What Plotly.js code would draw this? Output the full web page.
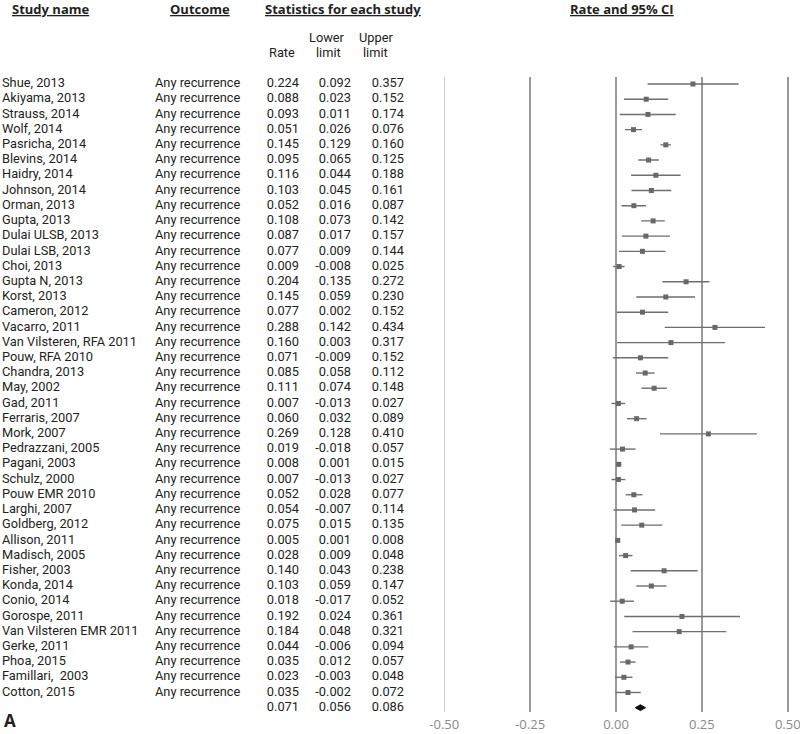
<!DOCTYPE html>
<html>
<head>
<meta charset="utf-8">
<script src="https://cdn.plot.ly/plotly-3.0.1.min.js"></script>
<style>html,body{margin:0;padding:0;background:#fff}#chart{width:800px;height:734px}</style>
</head>
<body>
<div id="chart"></div>
<script>
const studies = ["Shue, 2013","Akiyama, 2013","Strauss, 2014","Wolf, 2014","Pasricha, 2014","Blevins, 2014","Haidry, 2014","Johnson, 2014","Orman, 2013","Gupta, 2013","Dulai ULSB, 2013","Dulai LSB, 2013","Choi, 2013","Gupta N, 2013","Korst, 2013","Cameron, 2012","Vacarro, 2011","Van Vilsteren, RFA 2011","Pouw, RFA 2010","Chandra, 2013","May, 2002","Gad, 2011","Ferraris, 2007","Mork, 2007","Pedrazzani, 2005","Pagani, 2003","Schulz, 2000","Pouw EMR 2010","Larghi, 2007","Goldberg, 2012","Allison, 2011","Madisch, 2005","Fisher, 2003","Konda, 2014","Conio, 2014","Gorospe, 2011","Van Vilsteren EMR 2011","Gerke, 2011","Phoa, 2015","Famillari,  2003","Cotton, 2015"];
const outcomeLabel = "Any recurrence";
const rate  = [0.224,0.088,0.093,0.051,0.145,0.095,0.116,0.103,0.052,0.108,0.087,0.077,0.009,0.204,0.145,0.077,0.288,0.160,0.071,0.085,0.111,0.007,0.060,0.269,0.019,0.008,0.007,0.052,0.054,0.075,0.005,0.028,0.140,0.103,0.018,0.192,0.184,0.044,0.035,0.023,0.035];
const lower = [0.092,0.023,0.011,0.026,0.129,0.065,0.044,0.045,0.016,0.073,0.017,0.009,-0.008,0.135,0.059,0.002,0.142,0.003,-0.009,0.058,0.074,-0.013,0.032,0.128,-0.018,0.001,-0.013,0.028,-0.007,0.015,0.001,0.009,0.043,0.059,-0.017,0.024,0.048,-0.006,0.012,-0.003,-0.002];
const upper = [0.357,0.152,0.174,0.076,0.160,0.125,0.188,0.161,0.087,0.142,0.157,0.144,0.025,0.272,0.230,0.152,0.434,0.317,0.152,0.112,0.148,0.027,0.089,0.410,0.057,0.015,0.027,0.077,0.114,0.135,0.008,0.048,0.238,0.147,0.052,0.361,0.321,0.094,0.057,0.048,0.072];
const summaryRate = 0.071, summaryLower = 0.056, summaryUpper = 0.086;
const xTicks = [-0.50,-0.25,0.00,0.25,0.50];
const xTickLabels = ["-0.50","-0.25","0.00","0.25","0.50"];

const headers = ["Study name","Outcome","Statistics for each study","Rate and 95% CI"];
const subHeaders = ["Rate","Lower","limit","Upper","limit"];

// layout constants (pixels)
const W = 800, H = 734, TOP = 77, BOT = 22;
const plotH = H - TOP - BOT;
const rowStep = 15.21;
const nRows = studies.length + 1;
const yTopRow = -(84 - TOP) / rowStep;
const yBottom = (nRows - 1) + (H - BOT - 707.7) / rowStep;
const pxPerUnit = 343.5, zeroPx = 616;
const pad = 0.006;
const forestL = zeroPx - (0.5 + pad) * pxPerUnit, forestR = zeroPx + (0.5 + pad) * pxPerUnit;
const TXT = "#231f20";
const FONT = "Roboto, Open Sans, sans-serif";
const HFONT = "Open Sans, DejaVu Sans, sans-serif";
const fs = 12.8;

const rows = studies.map((s, i) => i);
const sumRow = studies.length;
const fmt = v => v.toFixed(3);

// column positions (in x2 pixel-like units)
const colName = 2, colOutcome = 155, colRate = 299, colLower = 351, colUpper = 404;

function textTrace(x, ys, texts, pos) {
  return {
    type: "scatter", mode: "text", xaxis: "x2", yaxis: "y",
    x: ys.map(() => x), y: ys, text: texts, textposition: pos,
    textfont: {family: FONT, size: fs, color: TXT},
    hoverinfo: "skip", showlegend: false, cliponaxis: false
  };
}

const allRows = rows.concat([sumRow]);
const traces = [
  textTrace(colName, rows, studies, "middle right"),
  textTrace(colOutcome, rows, studies.map(() => outcomeLabel), "middle right"),
  textTrace(colRate, allRows, rate.concat([summaryRate]).map(fmt), "middle left"),
  textTrace(colLower, allRows, lower.concat([summaryLower]).map(fmt), "middle left"),
  textTrace(colUpper, allRows, upper.concat([summaryUpper]).map(fmt), "middle left"),
  {
    type: "scatter", mode: "markers", x: rate, y: rows,
    marker: {symbol: "square", size: 5, color: "#686868"},
    error_x: {type: "data", symmetric: false,
      array: rate.map((r, i) => upper[i] - r),
      arrayminus: rate.map((r, i) => r - lower[i]),
      width: 0, thickness: 1.4, color: "#6e6e6e"},
    hoverinfo: "skip", showlegend: false, cliponaxis: false
  },
  {
    type: "scatter", mode: "lines", fill: "toself", fillcolor: "#111",
    x: [summaryLower, summaryRate, summaryUpper, summaryRate, summaryLower],
    y: [sumRow, sumRow - 0.19, sumRow, sumRow + 0.19, sumRow],
    line: {color: "#111", width: 1},
    hoverinfo: "skip", showlegend: false
  }
];

const pY = pix => 1 - (pix - TOP) / plotH;
const pX = pix => pix / W;
const ann = (text, xc, y, opts) => Object.assign({
  text, x: pX(xc), y: pY(y), xref: "paper", yref: "paper",
  xanchor: "center", yanchor: "middle", showarrow: false,
  font: {family: FONT, size: fs, color: TXT}
}, opts || {});
const hfont = {family: HFONT, size: 13, color: TXT};

const annotations = [
  ann("<b><u>" + headers[0] + "</u></b>", 51, 9, {font: hfont}),
  ann("<b><u>" + headers[1] + "</u></b>", 200, 9, {font: hfont}),
  ann("<b><u>" + headers[2] + "</u></b>", 343, 9, {font: hfont}),
  ann("<b><u>" + headers[3] + "</u></b>", 622, 9, {font: hfont}),
  ann(subHeaders[0], 282, 52.5),
  ann(subHeaders[1], 327, 37.5),
  ann(subHeaders[2], 328, 52.5),
  ann(subHeaders[3], 376, 37.5),
  ann(subHeaders[4], 375, 52.5),
  ann("<b>A</b>", 10, 720, {font: {family: HFONT, size: 17, color: TXT}})
];

const layout = {
  width: W, height: H,
  margin: {l: 0, r: 0, t: TOP, b: BOT, pad: 0},
  paper_bgcolor: "#fff", plot_bgcolor: "#fff",
  showlegend: false,
  xaxis: {
    domain: [forestL / W, forestR / W], range: [-0.5 - pad, 0.5 + pad],
    tickvals: xTicks, ticktext: xTickLabels,
    showgrid: true, gridcolor: "#9a9a9a", gridwidth: 1.8,
    zeroline: false, showline: false, ticks: "",
    tickfont: {family: HFONT, size: 13, color: "#8a8a8a"},
    ticklabelstandoff: 3, ticklabeloverflow: "allow", fixedrange: true
  },
  xaxis2: {
    domain: [0, 444.5 / W], range: [0, 444.5], anchor: "y",
    visible: false, fixedrange: true
  },
  yaxis: {
    range: [yBottom, yTopRow], visible: false, showgrid: false, zeroline: false, fixedrange: true
  },
  annotations
};

Plotly.newPlot("chart", traces, layout, {displayModeBar: false, staticPlot: true});
</script>
</body>
</html>
